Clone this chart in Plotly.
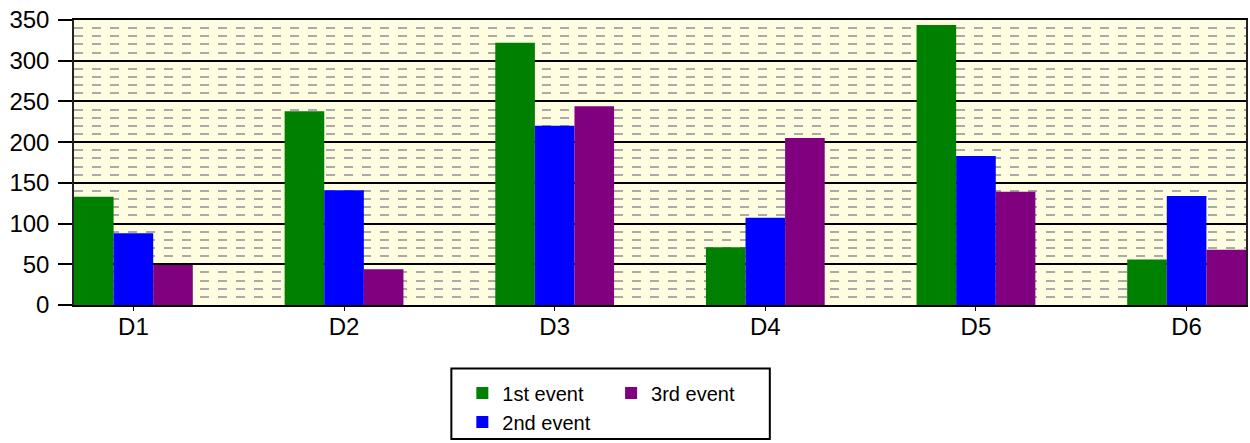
import plotly.graph_objects as go

categories = ["D1", "D2", "D3", "D4", "D5", "D6"]
first_event = [133, 238, 322, 71, 344, 56]
second_event = [88, 141, 220, 107, 183, 134]
third_event = [49, 44, 244, 205, 139, 68]
y_ticks = [0, 50, 100, 150, 200, 250, 300, 350]

fig = go.Figure()
fig.add_trace(go.Bar(x=categories, y=first_event, name="1st event",
                     marker=dict(color="#008000", line=dict(width=0)), legend="legend"))
fig.add_trace(go.Bar(x=categories, y=second_event, name="2nd event",
                     marker=dict(color="#0000FF", line=dict(width=0)), legend="legend"))
fig.add_trace(go.Bar(x=categories, y=third_event, name="3rd event",
                     marker=dict(color="#800080", line=dict(width=0)), legend="legend2"))

font = dict(family="Arial, Liberation Sans, sans-serif", size=20, color="black")
tick_font = dict(family="Arial, Liberation Sans, sans-serif", size=24, color="black")

fig.update_layout(
    width=1250, height=443,
    margin=dict(l=74, r=2, t=20, b=136),
    paper_bgcolor="white",
    plot_bgcolor="#FFFDE0",
    barmode="group", bargap=0.436, bargroupgap=0,
    font=font,
    showlegend=True,
    legend=dict(x=(463 - 74) / 1174, y=(307 - 376) / 287, xanchor="left", yanchor="top",
                orientation="v", bgcolor="rgba(0,0,0,0)", borderwidth=0, font=font,
                tracegroupgap=0),
    legend2=dict(x=(612 - 74) / 1174, y=(307 - 376) / 287, xanchor="left", yanchor="top",
                 orientation="v", bgcolor="rgba(0,0,0,0)", borderwidth=0, font=font),
    xaxis=dict(type="category", range=[-0.282, 5.282], showline=True, linecolor="black",
               linewidth=1.5, mirror=True, ticks="outside", ticklen=4, tickcolor="black",
               tickfont=tick_font, showgrid=False, ticklabelstandoff=-5),
    yaxis=dict(range=[0, 350], tickvals=y_ticks, showline=True, linecolor="#222222",
               linewidth=1.5, mirror=True, ticks="outside", ticklen=14, tickcolor="black",
               tickwidth=1.5, tickfont=tick_font, showgrid=True, gridcolor="black", gridwidth=1.5,
               zeroline=False, ticklabelstandoff=4,
               minor=dict(dtick=10, showgrid=True, gridcolor="#AAAAAA", griddash="dash",
                          gridwidth=1.5)),
    shapes=[dict(type="rect", xref="paper", yref="paper",
                 x0=(452 - 74) / 1174, x1=(771 - 74) / 1174,
                 y0=(307 - 442) / 287, y1=(307 - 371) / 287,
                 line=dict(color="black", width=2), fillcolor="rgba(0,0,0,0)")],
)

fig.write_html("out.html")
